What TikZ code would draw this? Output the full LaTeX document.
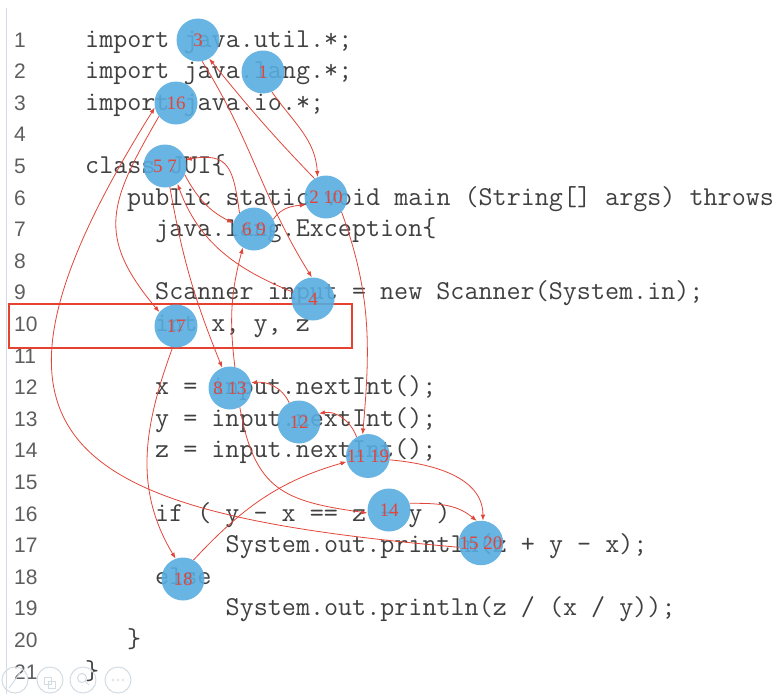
\documentclass[tikz,border=0pt]{standalone}
\usepackage{fontspec}
\usepackage{tikz}
\usetikzlibrary{arrows.meta}
\newfontfamily\numfont{Liberation Sans}
\newfontfamily\stepfont{Liberation Serif}
\definecolor{spotblue}{HTML}{58ACE0}
\definecolor{flowred}{HTML}{E0463A}
\definecolor{codegray}{HTML}{404040}
\definecolor{numgray}{HTML}{5E5E5E}
\definecolor{framered}{HTML}{E5432F}
\definecolor{iconline}{HTML}{D3DBE3}

\begin{document}
\begin{tikzpicture}[
  x=1pt, y=1pt,
  code/.style={anchor=base west, inner sep=0pt, text=codegray,
    font=\ttfamily\fontsize{27.3}{32}\selectfont},
  lineno/.style={anchor=base west, inner sep=0pt, text=numgray,
    font=\numfont\fontsize{21}{25}\selectfont},
  spot/.style={circle, fill=spotblue, fill opacity=0.9, text opacity=1,
    minimum size=43pt, inner sep=0pt, text=flowred,
    font=\stepfont\fontsize{19}{22}\selectfont},
  flow/.style={-{Latex[length=6pt,width=4.5pt]}, draw=flowred, line width=0.8pt},
  icon/.style={draw=iconline, line width=1pt}
]
\useasboundingbox (0,0) rectangle (774,-694);
\draw[icon] (6,-8) -- (6,-694);

% line numbers
\foreach \n in {1,...,21}
  \node[lineno] (n\n) at (14,{-47-31.6*(\n-1)}) {\n};

% source text
\node[code] (l1) at (85,-47) {import java.util.*;};
\node[code] (l2) at (85,-78.6) {import java.lang.*;};
\node[code] (l3) at (85,-110.2) {import java.io.*;};
\node[code] (l5) at (85,-173.4) {class JUI\{};
\node[code] (l6) at (127,-205) {public static void main (String[] args) throws};
\node[code] (l7) at (155,-236.6) {java.lang.Exception\{};
\node[code] (l9) at (155,-299.8) {Scanner input = new Scanner(System.in);};
\node[code] (l10) at (155,-331.4) {int x, y, z};
\node[code] (l12) at (155,-394.6) {x = input.nextInt();};
\node[code] (l13) at (155,-426.2) {y = input.nextInt();};
\node[code] (l14) at (155,-457.8) {z = input.nextInt();};
\node[code] (l16) at (155,-521) {if ( y - x == z - y )};
\node[code] (l17) at (225.5,-552.6) {System.out.println(z + y - x);};
\node[code] (l18) at (155,-584.2) {else};
\node[code] (l19) at (225.5,-615.8) {System.out.println(z / (x / y));};
\node[code] (l20) at (127,-647.4) {\}};
\node[code] (l21) at (85,-679) {\}};

\draw[framered, line width=2.5pt] (9,-304) rectangle (352,-348);

% execution steps
\node[spot] (st3) at (198,-40) {3};
\node[spot] (st1) at (263,-72) {1};
\node[spot] (st16) at (176,-103) {16};
\node[spot] (st57) at (165,-166) {5 7};
\node[spot] (st210) at (326,-197) {2 10};
\node[spot] (st69) at (254,-229) {6 9};
\node[spot] (st4) at (313,-299) {4};
\node[spot] (st17) at (176,-326) {17};
\node[spot] (st813) at (230,-388) {8 13};
\node[spot] (st12) at (299,-422) {12};
\node[spot] (st1119) at (368,-456) {11 19};
\node[spot] (st14) at (389,-510) {14};
\node[spot] (st1520) at (481,-543) {15 20};
\node[spot] (st18) at (183,-579) {18};

\draw[flow] (st1.-66) to[out=-55,in=93] (st210.113);
\draw[flow] (st210.122) to[out=134,in=-51] (st3.-59);
\draw[flow] (st3.-79) to[out=-58,in=122] (st4.93);
\draw[flow] (st4.161) to[out=158,in=-70] (st57.-55);
\draw[flow] (st57.-24) to[out=-62,in=153] (st69.164);
\draw[flow] (st69.132) to[out=98,in=10,looseness=1.5] (st57.17);
\draw[flow] (st57.-77) to[out=-80,in=112] (st813.111);
\draw[flow] (st813.77) to[out=97,in=-105] (st69.-121);
\draw[flow] (st69.27) to[out=55,in=185] (st210.201);
\draw[flow] (st210.-44) to[out=-70,in=85] (st1119.104);
\draw[flow] (st1119.121) to[out=110,in=10] (st12.23);
\draw[flow] (st12.117) to[out=115,in=5] (st813.14);
\draw[flow] (st813.-63) to[out=-80,in=172,looseness=1.3] (st14.188);
\draw[flow] (st14.18) to[out=0,in=140] (st1520.101);
\draw[flow] (st1520.191) to[out=175,in=238,looseness=1.9] (st16.192);
\draw[flow] (st16.218) to[out=240,in=130,looseness=1.3] (st17.140);
\draw[flow] (st17.-99) to[out=-110,in=121] (st18.110);
\draw[flow] (st18.61) to[out=47,in=196] (st1119.195);
\draw[flow] (st1119.-10) to[out=-5,in=90] (st1520.85);

% toolbar
\foreach \x in {15,50,83,118}
  \draw[icon] (\x,-680) circle (13);
\draw[icon] (9,-688) -- (20,-673);
\draw[icon] (44,-684) rectangle (51,-677);
\draw[icon] (48,-688) rectangle (55,-681);
\draw[icon] (82,-678) circle (4.5) (85.5,-681.5) -- (89,-685);
\foreach \x in {113,118,123}
  \fill[iconline] (\x,-680) circle (1.2);
\end{tikzpicture}
\end{document}
